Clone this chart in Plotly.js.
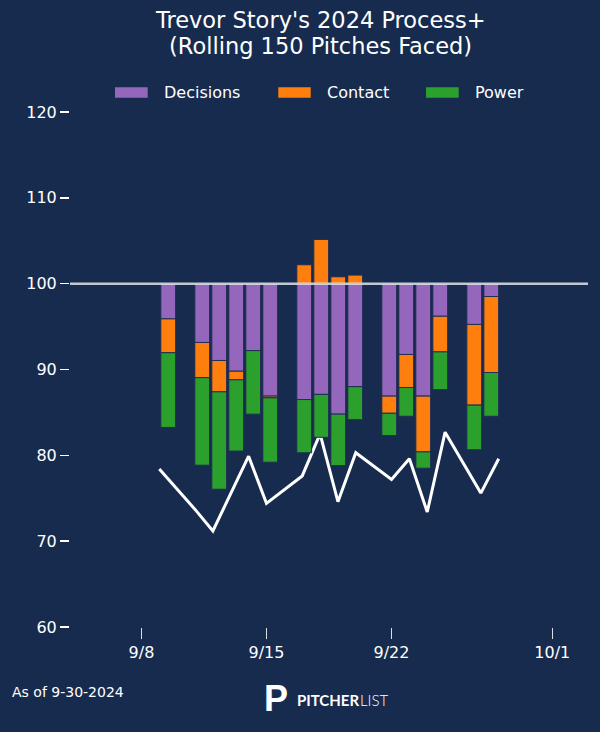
<!DOCTYPE html>
<html>
<head>
<meta charset="utf-8">
<script src="https://cdn.plot.ly/plotly-3.0.1.min.js"></script>
<style>
  html, body { margin: 0; padding: 0; background: #172b4e; }
  #chart { width: 600px; height: 732px; }
</style>
</head>
<body>
<div id="chart"></div>
<script>

// game dates (rolling window end points)
var dates = ['2024-09-09','2024-09-11','2024-09-12','2024-09-13','2024-09-14','2024-09-15',
             '2024-09-17','2024-09-18','2024-09-19','2024-09-20',
             '2024-09-22','2024-09-23','2024-09-24','2024-09-25',
             '2024-09-27','2024-09-28'];

// component contributions, relative to 100
var decisions = [-4.1, -6.85, -8.95, -10.2, -7.8, -13.1, -13.5, -12.9, -15.2, -12.0, -13.1, -8.25, -13.1, -3.8, -4.75, -1.5];
var contact   = [-3.95, -4.1, -3.65, -1.0, 0, -0.2, 2.2, 5.15, 0.8, 1.0, -2.0, -3.85, -6.5, -4.15, -9.4, -8.85];
var power     = [-8.7, -10.2, -11.35, -8.3, -7.4, -7.5, -6.2, -5.0, -6.0, -3.85, -2.6, -3.35, -1.9, -4.4, -5.2, -5.1];

// overall Process+
var processPlus = [78.4, 73.7, 71.2, 75.6, 79.9, 74.4, 77.6, 82.5, 74.6, 80.3, 77.2, 79.6, 73.4, 82.7, 75.6, 79.6];

var tickDates  = ['2024-09-08','2024-09-15','2024-09-22','2024-10-01'];
var tickLabels = ['9/8','9/15','9/22','10/1'];

var titleLines = ["Trevor Story's 2024 Process+", "(Rolling 150 Pitches Faced)"];

var baseline = 100;
var yRange = [60, 120];

var bg = '#172b4e';
var purple = '#9467bd', orange = '#ff7f0e', green = '#2ca02c';
var dayMs = 86400000;

function barTrace(name, vals, color) {
  return {
    x: dates,
    y: vals,
    name: name,
    type: 'bar',
    xaxis: 'x2',
    yaxis: 'y2',
    width: 0.87 * dayMs,
    marker: { color: color, line: { color: '#1f2e54', width: 1 } },
    showlegend: false,
    hoverinfo: 'skip'
  };
}

var lineTrace = {
  x: dates,
  y: processPlus,
  type: 'scatter',
  mode: 'lines',
  line: { color: '#ffffff', width: 3 },
  showlegend: false,
  hoverinfo: 'skip'
};

var data = [
  lineTrace,
  barTrace('Decisions', decisions, purple),
  barTrace('Contact', contact, orange),
  barTrace('Power', power, green)
];

var shapes = [{
  type: 'line', xref: 'paper', yref: 'y', x0: 0, x1: 1, y0: baseline, y1: baseline,
  line: { color: 'rgba(225,228,234,0.85)', width: 2.5 }, layer: 'above'
}];
var annotations = [];

// title, one annotation per line to keep the tight line spacing
annotations.push({ xref: 'paper', yref: 'paper', x: (320.5 - 70) / 518, y: (627 - 20.5) / 515,
  xanchor: 'center', yanchor: 'middle', showarrow: false,
  text: titleLines[0], font: { family: 'DejaVu Sans', size: 22.5, color: '#ffffff' } });
annotations.push({ xref: 'paper', yref: 'paper', x: (320.5 - 70) / 518, y: (627 - 46) / 515,
  xanchor: 'center', yanchor: 'middle', showarrow: false,
  text: titleLines[1], font: { family: 'DejaVu Sans', size: 22.5, color: '#ffffff' } });

function legendItem(x0, x1, tx, label, color) {
  shapes.push({ type: 'rect', xref: 'paper', yref: 'paper',
    x0: x0, x1: x1, y0: 1.0278, y1: 1.048,
    fillcolor: color, line: { width: 0 } });
  annotations.push({ xref: 'paper', yref: 'paper', x: tx, y: 1.038,
    xanchor: 'left', yanchor: 'middle', showarrow: false,
    text: label, font: { family: 'DejaVu Sans', size: 16, color: '#ffffff' } });
}

legendItem(0.0869, 0.1500, 0.178, 'Decisions', purple);
legendItem(0.4021, 0.4647, 0.4929, 'Contact', orange);
legendItem(0.6873, 0.7504, 0.7786, 'Power', green);

// footer
annotations.push({ xref: 'paper', yref: 'paper', x: -0.1158, y: -0.1262,
  xanchor: 'left', yanchor: 'middle', showarrow: false,
  text: 'As of 9-30-2024', font: { family: 'DejaVu Sans', size: 14, color: '#ffffff' } });

annotations.push({ xref: 'paper', yref: 'paper', x: 0.397, y: -0.1398,
  xanchor: 'center', yanchor: 'middle', showarrow: false,
  text: '<b>P</b>', font: { family: 'Liberation Sans', size: 36, color: '#ffffff' } });
annotations.push({ xref: 'paper', yref: 'paper', x: 0.4336, y: -0.1417,
  xanchor: 'left', yanchor: 'middle', showarrow: false,
  text: '<b>PITCHER</b>', font: { family: 'Lato', size: 15, color: '#ffffff' } });
annotations.push({ xref: 'paper', yref: 'paper', x: 0.556, y: -0.1417,
  xanchor: 'left', yanchor: 'middle', showarrow: false,
  text: 'LIST', font: { family: 'Lato', size: 15, color: '#ffffff', weight: 300 } });

var layout = {
  width: 600,
  height: 732,
  paper_bgcolor: bg,
  plot_bgcolor: bg,
  font: { family: 'DejaVu Sans', color: '#ffffff', size: 16 },
  margin: { l: 70, r: 12, t: 112, b: 105 },
  barmode: 'relative',
  bargap: 0,
  xaxis: {
    type: 'date',
    range: ['2024-09-04', '2024-10-03'],
    tickmode: 'array',
    tickvals: tickDates,
    ticktext: tickLabels,
    ticks: 'outside',
    ticklen: 11,
    tickwidth: 1,
    tickcolor: 'rgba(255,255,255,0.85)',
    showgrid: false,
    zeroline: false,
    showline: false,
    tickfont: { family: 'DejaVu Sans', size: 16, color: '#ffffff' }
  },
  yaxis: {
    range: yRange,
    dtick: 10,
    ticks: 'outside',
    ticklen: 9,
    tickwidth: 1.5,
    tickcolor: '#ffffff',
    showgrid: false,
    zeroline: false,
    showline: false,
    tickfont: { family: 'DejaVu Sans', size: 16, color: '#ffffff' }
  },
  xaxis2: {
    type: 'date',
    overlaying: 'x',
    range: ['2024-09-03 05:22', '2024-10-03 16:34'],
    visible: false
  },
  yaxis2: {
    overlaying: 'y',
    range: [yRange[0] - baseline, yRange[1] - baseline],
    visible: false
  },
  shapes: shapes,
  annotations: annotations
};

Plotly.newPlot('chart', data, layout, { displayModeBar: false, staticPlot: true });
</script>
</body>
</html>
